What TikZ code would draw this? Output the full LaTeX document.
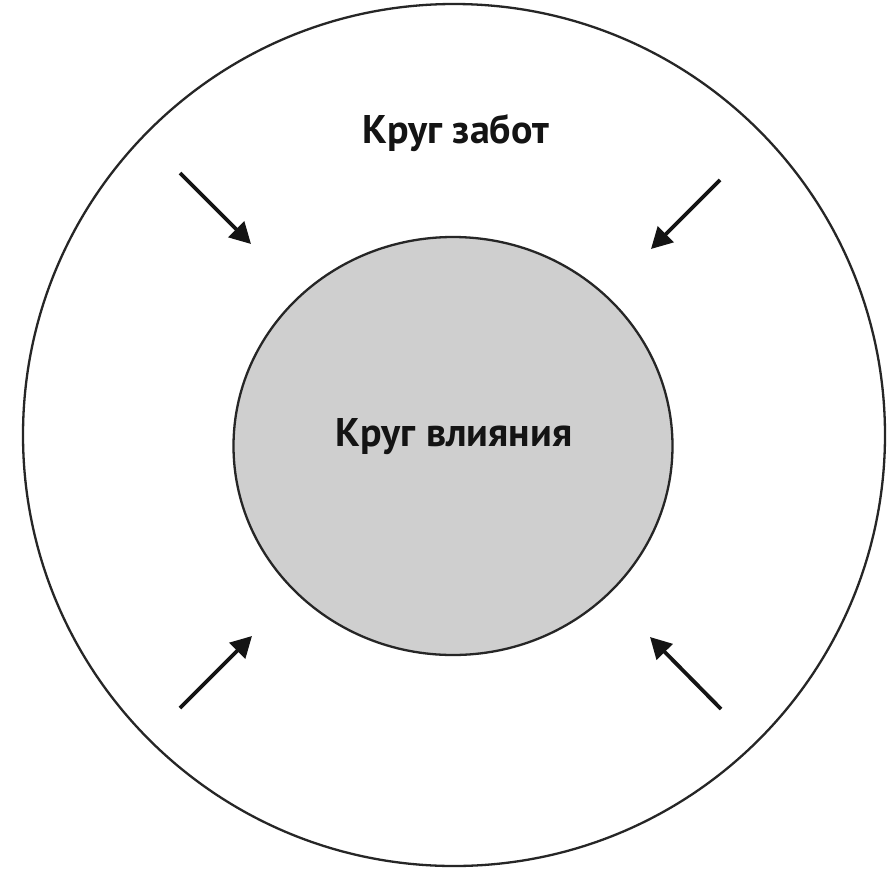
\documentclass[tikz,border=0pt]{standalone}
\usepackage{fontspec}
\setmainfont{PT Sans}
\usetikzlibrary{arrows.meta,shapes.geometric}
\begin{document}
\begin{tikzpicture}[x=1pt,y=-1pt,
  ring/.style={draw=black!85,line width=2.3pt},
  label/.style={font=\bfseries\fontsize{40}{44}\selectfont,text=black!92},
  push/.style={draw=black!92,line width=3.8pt,-{Triangle[length=21pt,width=22pt]}}]
\useasboundingbox[fill=white] (0,0) rectangle (887,871);
\node[ring,circle,minimum size=862pt,inner sep=0pt] (outer) at (454,435) {};
\node[ring,fill=black!19,ellipse,minimum width=439pt,minimum height=418pt,inner sep=0pt] (inner) at (453,446) {};
\node[label] (t1) at (456,133) {Круг забот};
\node[label] (t2) at (454,437) {Круг влияния};
\coordinate (a1) at (180,173); \coordinate (b1) at (251,244);
\coordinate (a2) at (720,180); \coordinate (b2) at (651,249);
\coordinate (a3) at (180,708); \coordinate (b3) at (252,636);
\coordinate (a4) at (721,709); \coordinate (b4) at (650,637);
\draw[push] (a1) -- (b1);
\draw[push] (a2) -- (b2);
\draw[push] (a3) -- (b3);
\draw[push] (a4) -- (b4);
\end{tikzpicture}
\end{document}
